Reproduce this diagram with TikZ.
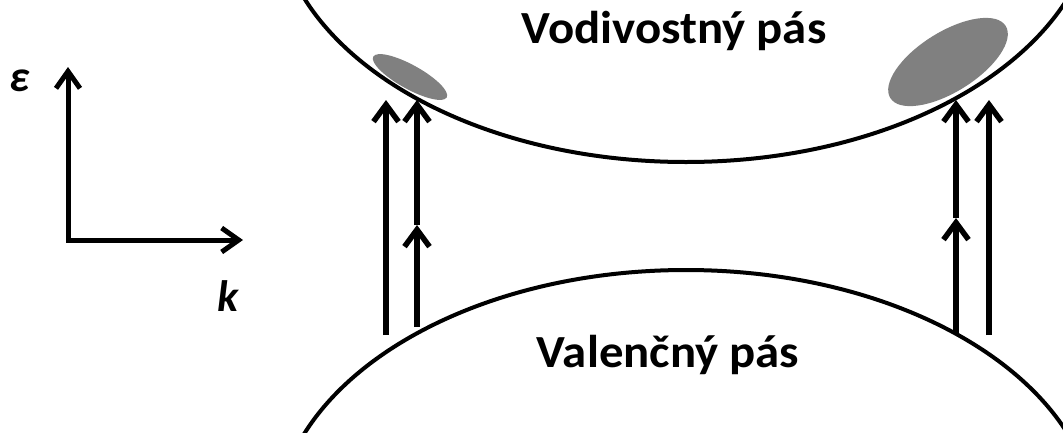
\documentclass[tikz,border=0pt]{standalone}
\usepackage{fontspec}
\setmainfont{Carlito}
\usepackage{xcolor}
\definecolor{Pocket}{gray}{0.5}
\usetikzlibrary{arrows.meta}
\tikzset{
  band/.style={line width=4pt,draw=black},
  pocket/.style={fill=Pocket},
  kaxis/.style={line width=5pt,line join=miter,
    {Straight Barb[length=17pt,width=24pt]}-{Straight Barb[length=17pt,width=24pt]}},
  transition/.style={line width=5.5pt,-{Straight Barb[length=17pt,width=25pt]}},
  bandname/.style={font=\bfseries\fontsize{46}{50}\selectfont,inner sep=0pt},
  axisname/.style={font=\bfseries\itshape\fontsize{44}{48}\selectfont,inner sep=0pt}
}
\newcommand{\wide}[1]{\scalebox{1.06}[1]{#1}}

\begin{document}
\begin{tikzpicture}[x=1pt,y=-1pt]
  \useasboundingbox (0,0) rectangle (1063,432);
  \fill[white] (0,0) rectangle (1063,432);
  \fill[pocket, rotate around={-29:(410,77)}] (410,77) ellipse [x radius=42, y radius=12];
  \fill[pocket, rotate around={32:(948,62)}] (948,62) ellipse [x radius=68, y radius=30];
  \begin{scope}
    \clip (0,0) rectangle (1063,432);
    \draw[band] (686,-96) ellipse [x radius=410, y radius=258];
    \draw[band] (686,528) ellipse [x radius=410, y radius=258];
  \end{scope}
  \node[bandname, anchor=base] (cb) at (674,43) {\wide{Vodivostný pás}};
  \node[bandname, anchor=base] (vb) at (668,367) {\wide{Valenčný pás}};
  \coordinate (origin) at (68,240);
  \coordinate (etip) at (68,67);
  \coordinate (ktip) at (243,240);
  \draw[kaxis] (etip) -- (origin) -- (ktip);
  \node[axisname] (eps) at (20,81) {ε};
  \node[axisname] (kname) at (228,296) {k};
  \coordinate (l1b) at (386,335);
  \coordinate (l1t) at (386,100);
  \coordinate (l2b) at (417,327);
  \coordinate (l2m) at (417,225);
  \coordinate (l2t) at (417,100);
  \coordinate (r1b) at (956,333);
  \coordinate (r1m) at (956,218);
  \coordinate (r1t) at (956,100);
  \coordinate (r2b) at (989,335);
  \coordinate (r2t) at (989,100);
  \draw[transition] (l1b) -- (l1t);
  \draw[transition] (l2b) -- (l2m);
  \draw[transition] (l2m) -- (l2t);
  \draw[transition] (r1b) -- (r1m);
  \draw[transition] (r1m) -- (r1t);
  \draw[transition] (r2b) -- (r2t);
\end{tikzpicture}
\end{document}
